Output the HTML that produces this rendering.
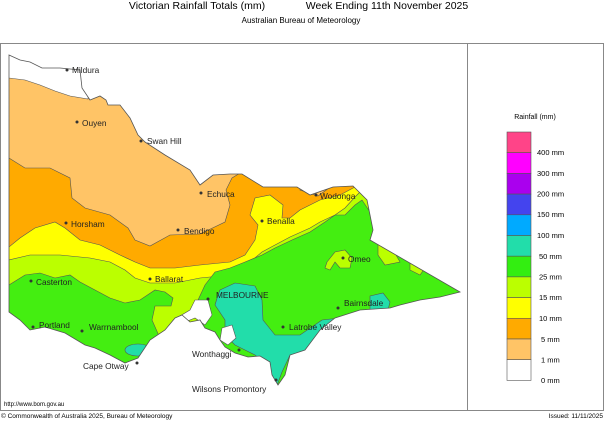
<!DOCTYPE html>
<html><head><meta charset="utf-8"><style>
body{margin:0;background:#fff;width:604px;height:420px;overflow:hidden;font-family:"Liberation Sans",sans-serif}
</style></head><body>
<svg width="604" height="420" viewBox="0 0 604 420" xmlns="http://www.w3.org/2000/svg" font-family="Liberation Sans, sans-serif">
<defs>
<clipPath id="vic"><path id="vicp" d="M9,55 L20,60 L30,62 L42,68 L60,68 L80,70 L82,88 L90,100 L100,96 L106,100 L108,105 L120,105 L130,118 L138,135 L145,142 L165,155 L190,170 L200,185 L213,175 L230,174 L242,174 L263,187 L297,187 L310,195 L333,187 L353,186 L367,200 L373,230 L370,240 L460,292 L440,297 L420,300 L400,305 L390,308 L360,310 L335,318 L320,330 L305,350 L290,355 L285,375 L278,385 L272,375 L270,362 L260,356 L248,357 L235,353 L225,347 L220,340 L215,332 L205,328 L200,320 L190,322 L182,315 L175,318 L165,330 L150,340 L138,358 L125,363 L110,355 L95,348 L85,345 L65,333 L45,327 L30,330 L20,320 L9,312 Z"/></clipPath>
</defs>
<text x="197" y="9" font-size="10.5" text-anchor="middle">Victorian Rainfall Totals (mm)</text>
<text x="387" y="9" font-size="10.5" text-anchor="middle">Week Ending 11th November 2025</text>
<text x="301" y="23" font-size="8" text-anchor="middle">Australian Bureau of Meteorology</text>
<rect x="0.5" y="43.5" width="603" height="367" fill="none" stroke="#888"/>
<line x1="467.5" y1="43" x2="467.5" y2="411" stroke="#888"/>
<g clip-path="url(#vic)" stroke="#555" stroke-width="0.6">
<rect x="0" y="40" width="470" height="370" fill="#ffc466"/>
<path fill="#fff" d="M0,40 L0,78 L9,78 L25,80 L40,85 L55,91 L70,96 L88,99 L95,40 Z"/>
<path fill="#ffaa00" d="M0,158 L9,158 L25,168 L50,168 L70,178 L72,198 L85,208 L110,215 L128,228 L135,240 L150,246 L170,235 L200,234 L225,222 L230,205 L226,190 L232,178 L245,170 L300,170 L300,190 L318,196 L340,180 L480,180 L480,410 L0,410 Z"/>
<path fill="#ffff00" d="M0,247 L9,247 L20,238 L35,228 L55,222 L65,228 L80,240 L100,245 L120,255 L135,262 L150,268 L175,268 L200,265 L230,262 L245,255 L255,240 L258,225 L250,215 L255,198 L270,195 L283,205 L282,218 L290,218 L300,210 L320,200 L340,195 L355,187 L380,175 L480,175 L480,410 L0,410 Z"/>
<path fill="#bbff00" d="M0,262 L30,255 L60,255 L90,258 L110,262 L125,270 L135,278 L150,283 L175,283 L200,278 L230,275 L250,262 L262,252 L275,245 L290,237 L310,228 L320,222 L335,215 L345,208 L355,197 L362,190 L380,175 L480,175 L480,410 L0,410 Z"/>
<path fill="#44ee11" d="M0,285 L9,285 L25,275 L40,273 L55,278 L70,275 L80,282 L95,290 L110,298 L125,303 L140,300 L155,290 L165,292 L173,298 L171,306 L155,306 L152,320 L163,345 L163,410 L0,410 Z"/>
<path fill="#44ee11" d="M200,312 L198,300 L205,285 L215,272 L230,268 L245,262 L262,255 L275,248 L292,240 L310,232 L325,222 L335,215 L345,215 L355,205 L362,200 L372,215 L373,232 L370,240 L480,300 L480,410 L190,410 Z"/>
<path fill="#bbff00" d="M378,243 L392,248 L400,262 L385,265 L378,255 Z"/>
<path fill="#bbff00" d="M410,262 L425,268 L420,275 L410,270 Z"/>
<path fill="#bbff00" d="M327,262 L335,252 L345,250 L352,258 L350,268 L340,268 L335,262 L330,270 L325,268 Z"/>
<path fill="#22ddaa" d="M220,290 L235,283 L255,286 L262,300 L263,320 L275,335 L300,335 L322,320 L340,318 L335,330 L310,350 L290,355 L282,372 L276,388 L268,365 L255,355 L245,350 L235,345 L225,335 L225,320 L215,305 L218,295 Z"/>
<ellipse cx="138" cy="350" rx="13" ry="6" fill="#22ddaa"/>
<path fill="#22ddaa" d="M370,296 L383,293 L390,302 L388,310 L370,310 Z"/>
<path fill="#fff" stroke="#555" d="M195,300 L208,300 L212,315 L205,325 L195,318 L185,322 L180,316 L190,310 Z"/>
<path fill="#fff" stroke="#555" d="M222,328 L232,325 L236,338 L228,345 L220,340 Z"/>
</g>
<use href="#vicp" fill="none" stroke="#555" stroke-width="0.8"/>
<g font-size="8.3" fill="#222">
<g fill="#333">
<circle cx="67" cy="70" r="1.5"/><circle cx="77" cy="122" r="1.5"/><circle cx="141" cy="141" r="1.5"/><circle cx="201" cy="193" r="1.5"/><circle cx="316" cy="195" r="1.5"/><circle cx="262" cy="221" r="1.5"/><circle cx="66" cy="223" r="1.5"/><circle cx="178" cy="230" r="1.5"/><circle cx="343" cy="258" r="1.5"/><circle cx="150" cy="279" r="1.5"/><circle cx="31" cy="281" r="1.5"/><circle cx="208" cy="299" r="1.5"/><circle cx="338" cy="308" r="1.5"/><circle cx="33" cy="327" r="1.5"/><circle cx="82" cy="331" r="1.5"/><circle cx="283" cy="327" r="1.5"/><circle cx="239" cy="350" r="1.5"/><circle cx="137" cy="363" r="1.5"/><circle cx="276" cy="380" r="1.5"/>
</g>
<text x="72" y="73">Mildura</text><text x="82" y="126">Ouyen</text><text x="147" y="144">Swan Hill</text><text x="207" y="197">Echuca</text><text x="320" y="199">Wodonga</text><text x="267" y="224">Benalla</text><text x="71" y="227">Horsham</text><text x="184" y="234">Bendigo</text><text x="348" y="262">Omeo</text><text x="155" y="282">Ballarat</text><text x="36" y="285">Casterton</text><text x="216" y="298">MELBOURNE</text><text x="344" y="306">Bairnsdale</text><text x="39" y="328">Portland</text><text x="89" y="330">Warrnambool</text><text x="289" y="330">Latrobe Valley</text><text x="192" y="357">Wonthaggi</text><text x="83" y="369">Cape Otway</text><text x="192" y="392">Wilsons Promontory</text>
</g>
<text x="4" y="406" font-size="6">http://www.bom.gov.au</text>
<text x="1" y="418" font-size="6.5">© Commonwealth of Australia 2025, Bureau of Meteorology</text>
<text x="603" y="418" font-size="6.5" text-anchor="end">Issued: 11/11/2025</text>
<text x="535" y="119" font-size="7" text-anchor="middle">Rainfall (mm)</text>
<g stroke="#555" stroke-width="0.6">
<rect x="507" y="132" width="24" height="20.7" fill="#ff4488"/>
<rect x="507" y="152.7" width="24" height="20.7" fill="#ff00ff"/>
<rect x="507" y="173.4" width="24" height="20.7" fill="#aa00ee"/>
<rect x="507" y="194.1" width="24" height="20.7" fill="#4444ee"/>
<rect x="507" y="214.8" width="24" height="20.7" fill="#00aaff"/>
<rect x="507" y="235.5" width="24" height="20.7" fill="#22ddaa"/>
<rect x="507" y="256.2" width="24" height="20.7" fill="#33ee11"/>
<rect x="507" y="276.9" width="24" height="20.7" fill="#bbff00"/>
<rect x="507" y="297.6" width="24" height="20.7" fill="#ffff00"/>
<rect x="507" y="318.3" width="24" height="20.7" fill="#ffaa00"/>
<rect x="507" y="339" width="24" height="20.7" fill="#ffc466"/>
<rect x="507" y="359.7" width="24" height="20.7" fill="#ffffff"/>
</g>
<g font-size="7.5">
<text x="537" y="155">400 mm</text><text x="537" y="176">300 mm</text><text x="537" y="196.5">200 mm</text><text x="537" y="217">150 mm</text><text x="537" y="238">100 mm</text><text x="539" y="259">50 mm</text><text x="539" y="279.5">25 mm</text><text x="539" y="300">15 mm</text><text x="539" y="321">10 mm</text><text x="541" y="342">5 mm</text><text x="541" y="362.5">1 mm</text><text x="541" y="383">0 mm</text>
</g>
</svg>
</body></html>
